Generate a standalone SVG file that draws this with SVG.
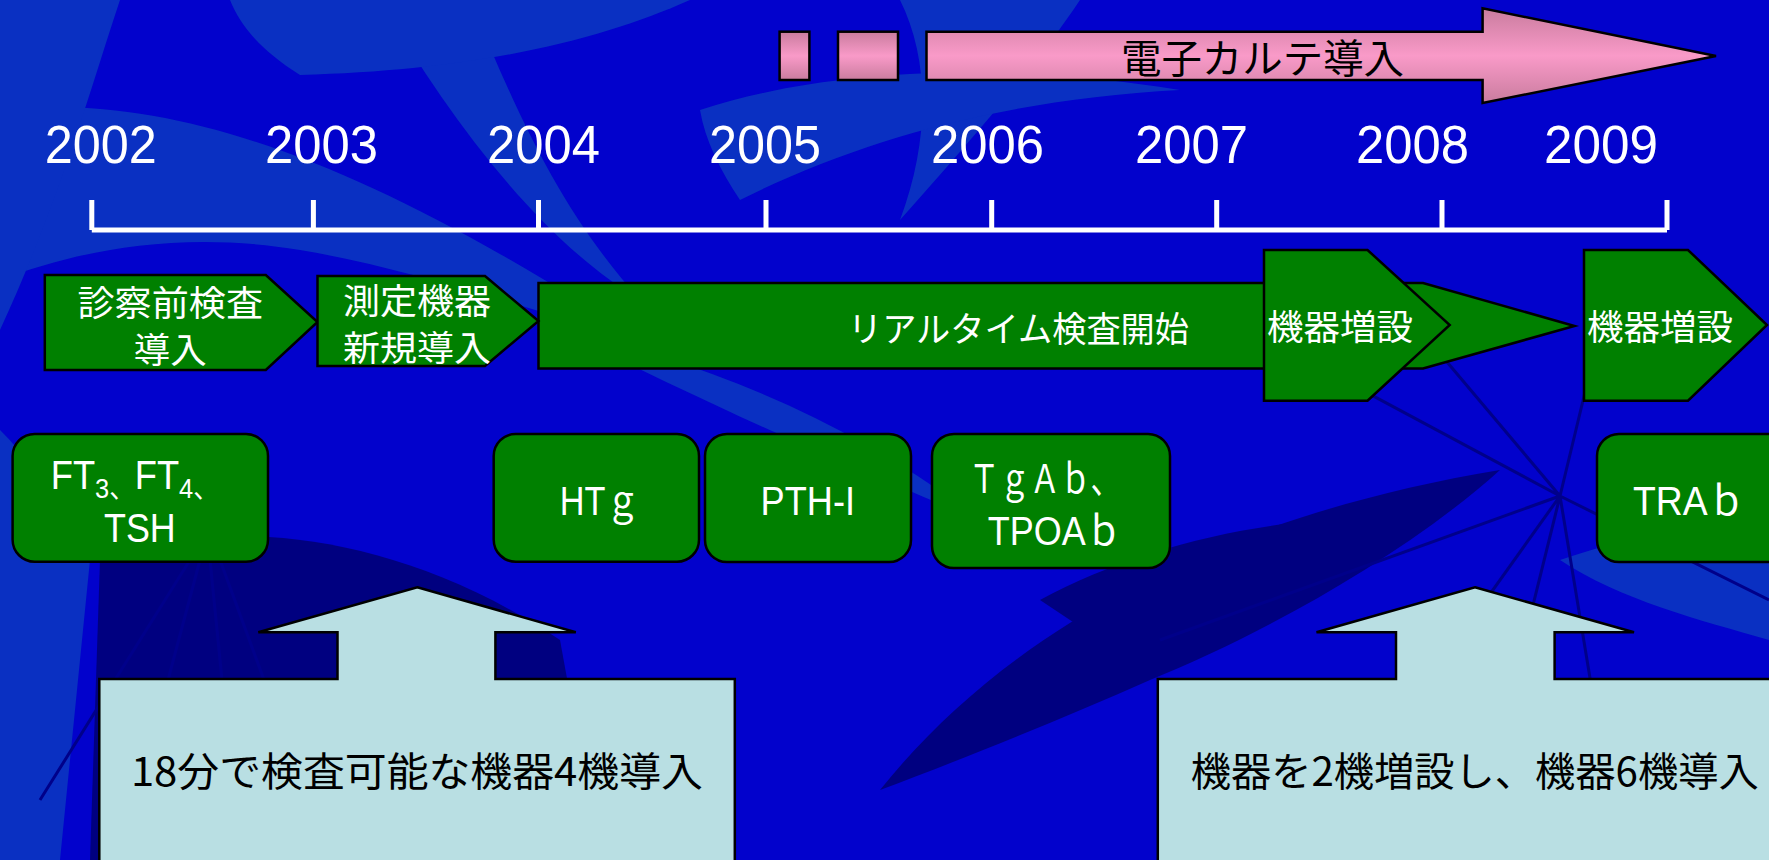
<svg xmlns="http://www.w3.org/2000/svg" width="1769" height="860" viewBox="0 0 1769 860">
<defs>
<linearGradient id="pinkGrad" x1="0" y1="0" x2="0" y2="1">
<stop offset="0" stop-color="#C97C9E"/>
<stop offset="0.5" stop-color="#F99AC8"/>
<stop offset="1" stop-color="#C97C9E"/>
</linearGradient>
<style>
.bgl{fill:#0A30C2}
.bgd{fill:#000080}
.bgv{fill:none;stroke:#00008A;stroke-width:3}
.pink{fill:url(#pinkGrad);stroke:#000;stroke-width:2.5}
.green{fill:#008000;stroke:#000;stroke-width:2.5}
.callout{fill:#B9DFE3;stroke:#000;stroke-width:2.5}
.axis{stroke:#fff;stroke-width:5;fill:none}
.year{fill:#fff;font-family:"Liberation Sans",sans-serif;font-size:53px}
.wt{fill:#fff;font-family:"Liberation Sans","Noto Sans CJK JP",sans-serif;font-size:40px}
.wj{fill:#fff;font-family:"Noto Sans CJK JP","Liberation Sans",sans-serif;font-size:35px}
.bj{fill:#000;font-family:"Noto Sans CJK JP","Liberation Sans",sans-serif;font-size:40px}
</style>
</defs>
<g id="background">
<rect width="1769" height="860" fill="#0202CC"/>
<path class="bgl" d="M0,110 C180,90 380,170 640,340 C560,320 420,270 300,250 C180,230 80,250 0,280 Z"/>
<path class="bgl" d="M380,0 L470,0 C520,120 560,210 640,300 C540,240 450,120 380,0 Z"/>
<path class="bgl" d="M230,0 L690,0 C600,40 480,70 300,75 C260,50 240,25 230,0 Z"/>
<path class="bgl" d="M900,0 L1080,0 C1040,60 980,130 900,220 C930,140 930,60 900,0 Z"/>
<path class="bgl" d="M700,110 C820,70 1000,60 1180,90 C1000,100 860,140 740,200 C720,170 705,140 700,110 Z"/>
<path class="bgl" d="M0,0 L120,0 C90,90 60,200 0,330 Z"/>
<path class="bgl" d="M0,430 C40,470 70,520 90,560 L60,860 L0,860 Z"/>
<path class="bgl" d="M1560,560 C1620,540 1700,520 1769,500 L1769,640 C1700,620 1620,600 1560,560 Z"/>
<path class="bgl" d="M560,330 C700,360 850,420 980,520 C880,480 740,420 560,330 Z"/>
<path class="bgd" d="M100,560 C200,520 380,520 560,640 L600,860 L90,860 Z"/>
<path class="bgd" d="M880,790 C1000,640 1200,520 1500,470 C1400,560 1250,640 1150,680 C1060,720 960,760 880,790 Z"/>
<path class="bgd" d="M1040,600 C1150,540 1300,510 1420,520 C1320,560 1200,600 1100,640 Z"/>
<path class="bgv" d="M1560,496 L1250,330 M1560,496 L1420,330 M1560,496 L1600,330 M1560,496 L1470,860 M1560,496 L1300,860 M1560,496 L1620,860 M1560,496 L1769,600 M1560,496 L1160,640"/>
<path class="bgv" d="M200,560 L120,860 M210,560 L240,860 M220,560 L330,860 M190,560 L40,800"/>
</g>
<g id="connectors">
<path class="axis" d="M91.8,230 H1667 M91.8,200 V230 M313.4,200 V230 M538.5,200 V230 M766,200 V230 M991.7,200 V230 M1216.7,200 V230 M1442,200 V230 M1667,200 V230"/>
</g>
<g id="years">
<text class="year" x="44.8" y="163" textLength="112" lengthAdjust="spacingAndGlyphs">2002</text>
<text class="year" x="265" y="163" textLength="113" lengthAdjust="spacingAndGlyphs">2003</text>
<text class="year" x="487" y="163" textLength="113" lengthAdjust="spacingAndGlyphs">2004</text>
<text class="year" x="709" y="163" textLength="112" lengthAdjust="spacingAndGlyphs">2005</text>
<text class="year" x="931" y="163" textLength="113" lengthAdjust="spacingAndGlyphs">2006</text>
<text class="year" x="1135" y="163" textLength="113" lengthAdjust="spacingAndGlyphs">2007</text>
<text class="year" x="1356" y="163" textLength="113" lengthAdjust="spacingAndGlyphs">2008</text>
<text class="year" x="1544" y="163" textLength="114" lengthAdjust="spacingAndGlyphs">2009</text>
</g>
<g id="emr">
<rect class="pink" x="779.6" y="31.7" width="29.8" height="48.3"/>
<rect class="pink" x="838" y="31.7" width="60" height="48.3"/>
<path class="pink" d="M926.5,31.7 H1482.6 V8.3 L1716,56 L1482.6,103 V80 H926.5 Z"/>
<text class="bj" x="1121" y="73" font-size="42" textLength="283" lengthAdjust="spacingAndGlyphs">電子カルテ導入</text>
</g>
<g id="realtime">
<path class="green" d="M538.5,283 H1423 L1574.5,326 L1423,368.5 H538.5 Z"/>
<text class="wj" x="848" y="342" font-size="36" textLength="341" lengthAdjust="spacingAndGlyphs">リアルタイム検査開始</text>
</g>
<g id="pre-exam">
<path class="green" d="M44.8,275 H265.8 L317.5,322 L265.8,370 H44.8 Z"/>
<text class="wj" x="77.5" y="316" textLength="185.5" lengthAdjust="spacingAndGlyphs">診察前検査</text>
<text class="wj" x="133.8" y="363" textLength="72.8" lengthAdjust="spacingAndGlyphs">導入</text>
</g>
<g id="new-device">
<path class="green" d="M317.5,276 H485 L538.5,321 L485,366 H317.5 Z"/>
<text class="wj" x="343" y="314" textLength="148" lengthAdjust="spacingAndGlyphs">測定機器</text>
<text class="wj" x="343" y="361" textLength="148" lengthAdjust="spacingAndGlyphs">新規導入</text>
</g>
<g id="add-device-1">
<path class="green" d="M1264,250 H1367.5 L1449.7,325 L1367.5,400.7 H1264 Z"/>
<text class="wj" x="1267" y="340" font-size="36" textLength="146" lengthAdjust="spacingAndGlyphs">機器増設</text>
</g>
<g id="add-device-2">
<path class="green" d="M1584,250 H1688 L1767,325 L1688,400.7 H1584 Z"/>
<text class="wj" x="1587" y="340" font-size="36" textLength="146" lengthAdjust="spacingAndGlyphs">機器増設</text>
</g>
<g id="ft-tsh">
<rect class="green" x="12.6" y="434" width="255.4" height="127.7" rx="22"/>
<text class="wt" x="50.7" y="489" textLength="168" lengthAdjust="spacingAndGlyphs">FT<tspan font-size="28" dy="9">3</tspan><tspan font-size="28">、</tspan><tspan dy="-9">FT</tspan><tspan font-size="28" dy="9">4</tspan><tspan font-size="28">、</tspan></text>
<text class="wt" x="104" y="542" font-size="38" textLength="71.7" lengthAdjust="spacingAndGlyphs">TSH</text>
</g>
<g id="htg">
<rect class="green" x="493.7" y="434" width="205.3" height="127.7" rx="22"/>
<text class="wt" x="559.7" y="515" textLength="80" lengthAdjust="spacingAndGlyphs">HTｇ</text>
</g>
<g id="pth">
<rect class="green" x="705" y="434" width="206" height="128" rx="22"/>
<text class="wt" x="760.6" y="515" textLength="94.4" lengthAdjust="spacingAndGlyphs">PTH-I</text>
</g>
<g id="tgab">
<rect class="green" x="932" y="434" width="238" height="134" rx="22"/>
<text class="wt" x="969" y="493" textLength="152" lengthAdjust="spacingAndGlyphs">ＴｇＡｂ、</text>
<text class="wt" x="987.7" y="545" textLength="134" lengthAdjust="spacingAndGlyphs">TPOAｂ</text>
</g>
<g id="trab">
<rect class="green" x="1597" y="434" width="200" height="128" rx="22"/>
<text class="wt" x="1633" y="515" textLength="112" lengthAdjust="spacingAndGlyphs">TRAｂ</text>
</g>
<g id="callout-left">
<path class="callout" d="M417.3,587.3 L575.8,632.3 H495.4 V679 H734.8 V875 H99.3 V679 H337.5 V632.3 H258.3 Z"/>
<text class="bj" x="130.9" y="786" textLength="572" lengthAdjust="spacingAndGlyphs">18分で検査可能な機器4機導入</text>
</g>
<g id="callout-right">
<path class="callout" d="M1475,587.3 L1634,632.3 H1554.6 V679 H1785 V875 H1157.8 V679 H1396 V632.3 H1316.5 Z"/>
<text class="bj" x="1190.7" y="786" textLength="568" lengthAdjust="spacingAndGlyphs">機器を2機増設し、機器6機導入</text>
</g>
</svg>
